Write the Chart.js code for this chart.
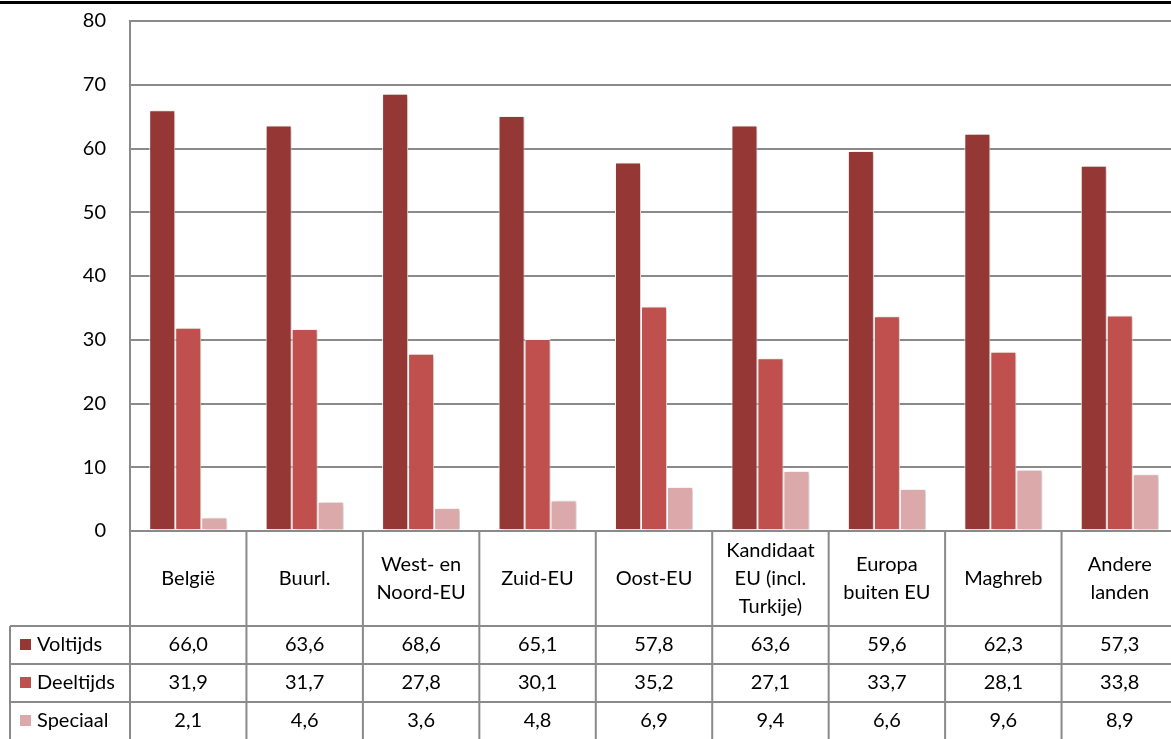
<!DOCTYPE html>
<html>
<head>
<meta charset="utf-8">
<script src="https://cdn.jsdelivr.net/npm/chart.js@4"></script>
<style>
  html, body { margin: 0; padding: 0; background: #fff; overflow: hidden; }
  #wrap { width: 1171px; height: 739px; overflow: hidden; }
</style>
</head>
<body>
<div id="wrap"><canvas id="chart" width="1178" height="739" style="width:1178px;height:739px"></canvas></div>
<script>
const categories = [['België'], ['Buurl.'], ['West- en', 'Noord-EU'], ['Zuid-EU'], ['Oost-EU'],
    ['Kandidaat', 'EU (incl.', 'Turkije)'], ['Europa', 'buiten EU'], ['Maghreb'], ['Andere', 'landen']];
const seriesNames = ['Voltijds', 'Deeltijds', 'Speciaal'];
const voltijds = [66.0, 63.6, 68.6, 65.1, 57.8, 63.6, 59.6, 62.3, 57.3];
const deeltijds = [31.9, 31.7, 27.8, 30.1, 35.2, 27.1, 33.7, 28.1, 33.8];
const speciaal = [2.1, 4.6, 3.6, 4.8, 6.9, 9.4, 6.6, 9.6, 8.9];
const colors = ['#953735', '#c0504d', '#dba9a9'];

const FONT = 'Lato, "Open Sans", sans-serif';
const FSIZE = 20;
const LINE = '#8a8a8a';

const fmt = v => v.toFixed(1).replace('.', ',');

// bar shadows
const shadowPlugin = {
    id: 'shadow',
    beforeDatasetsDraw(chart) {
        const c = chart.ctx;
        c.save();
        c.shadowColor = 'rgba(0,0,0,0.22)';
        c.shadowBlur = 4;
        c.shadowOffsetX = 2;
        c.shadowOffsetY = 1;
    },
    afterDatasetsDraw(chart) {
        chart.ctx.restore();
    }
};

// data table under the plot
const tablePlugin = {
    id: 'dataTable',
    afterDraw(chart) {
        const c = chart.ctx;
        const x = chart.scales.x;
        const area = chart.chartArea;
        const bottom = area.bottom;
        const headBottom = 626;
        const rowH = 38;
        const legendLeft = 10;
        const step = x.getPixelForValue(1) - x.getPixelForValue(0);
        const rows = [voltijds, deeltijds, speciaal];

        c.save();
        // top black rule
        c.fillStyle = '#000';
        c.fillRect(0, 1, chart.width, 3);

        c.strokeStyle = LINE;
        c.lineWidth = 2;
        c.beginPath();
        c.moveTo(area.left, bottom); c.lineTo(area.right, bottom);
        for (let r = 0; r <= 3; r++) {
            const y = headBottom + r * rowH;
            c.moveTo(legendLeft, y); c.lineTo(area.right, y);
        }
        c.moveTo(legendLeft, headBottom); c.lineTo(legendLeft, chart.height);
        for (let i = 0; i <= categories.length; i++) {
            const px = x.getPixelForValue(i) - step / 2;
            c.moveTo(px, bottom); c.lineTo(px, chart.height);
        }
        c.stroke();

        c.fillStyle = '#000';
        c.font = FSIZE + 'px ' + FONT;
        c.textAlign = 'center';
        c.textBaseline = 'middle';
        const headMid = (bottom + headBottom) / 2;
        categories.forEach((lines, i) => {
            const cx = x.getPixelForValue(i);
            const y0 = headMid - (lines.length - 1) * 28 / 2;
            lines.forEach((t, k) => c.fillText(t, cx, y0 + k * 28));
            rows.forEach((vals, r) => {
                c.fillText(fmt(vals[i]), cx, headBottom + r * rowH + rowH / 2);
            });
        });

        c.textAlign = 'left';
        seriesNames.forEach((name, r) => {
            const cy = headBottom + r * rowH + rowH / 2;
            c.fillStyle = colors[r];
            c.fillRect(20, cy - 6, 11, 11);
            c.fillStyle = '#000';
            c.fillText(name, 37, cy);
        });
        c.restore();
    }
};

new Chart(document.getElementById('chart'), {
    type: 'bar',
    data: {
        labels: categories.map(l => l.join(' ')),
        datasets: [
            {label: seriesNames[0], data: voltijds, backgroundColor: colors[0]},
            {label: seriesNames[1], data: deeltijds, backgroundColor: colors[1]},
            {label: seriesNames[2], data: speciaal, backgroundColor: colors[2]}
        ]
    },
    options: {
        responsive: false,
        animation: false,
        events: [],
        layout: {padding: {top: 21, bottom: 208, left: 0, right: 0}},
        datasets: {
            bar: {
                categoryPercentage: 0.67,
                barPercentage: 1,
                borderColor: '#ffffff',
                borderWidth: 1,
                borderSkipped: false
            }
        },
        scales: {
            x: {display: false},
            y: {
                min: 0,
                max: 80,
                afterFit(s) {
                    s.width = 130;
                    s.paddingTop = 0;
                    s.paddingBottom = 0;
                },
                ticks: {stepSize: 10, padding: 24, color: '#000', font: {family: FONT, size: FSIZE}},
                grid: {color: LINE, lineWidth: 2, drawTicks: false},
                border: {display: true, color: LINE, width: 2}
            }
        },
        plugins: {
            legend: {display: false},
            tooltip: {enabled: false}
        }
    },
    plugins: [shadowPlugin, tablePlugin]
});
</script>
</body>
</html>
